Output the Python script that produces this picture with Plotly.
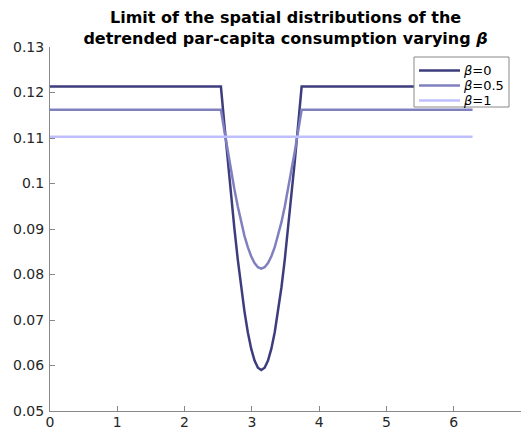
import plotly.graph_objects as go

# x positions: flat part, dip around pi, flat part to 2*pi
x_vals = [0.0, 2.54, 2.59, 2.64, 2.69, 2.74, 2.79, 2.84, 2.89, 2.94, 2.99, 3.04, 3.09,
          3.14, 3.19, 3.24, 3.29, 3.34, 3.39, 3.44, 3.49, 3.54, 3.59, 3.64, 3.69, 3.74, 6.28]

beta0 = [0.1213, 0.1213, 0.1132, 0.1052, 0.0975, 0.0902, 0.0834, 0.0772, 0.0719, 0.0673,
         0.0637, 0.0611, 0.0595, 0.0590, 0.0595, 0.0611, 0.0637, 0.0673, 0.0719, 0.0772,
         0.0834, 0.0902, 0.0975, 0.1052, 0.1132, 0.1213, 0.1213]

beta05 = [0.1162, 0.1162, 0.1117, 0.1072, 0.1028, 0.0988, 0.0950, 0.0915, 0.0885, 0.0860,
          0.0840, 0.0825, 0.0816, 0.0813, 0.0816, 0.0825, 0.0840, 0.0860, 0.0885, 0.0915,
          0.0950, 0.0988, 0.1028, 0.1072, 0.1117, 0.1162, 0.1162]

x_flat = [0.0, 6.28]
beta1 = [0.1103, 0.1103]

series_names = ["<i>β</i>=0", "<i>β</i>=0.5", "<i>β</i>=1"]
colors = ["#3d3d7d", "#8080c0", "#bfbfff"]

x_ticks = [0, 1, 2, 3, 4, 5, 6, 7]
x_ticktext = ["0", "1", "2", "3", "4", "5", "6", "7"]
y_ticks = [0.05, 0.06, 0.07, 0.08, 0.09, 0.10, 0.11, 0.12, 0.13]
y_ticktext = ["0.05", "0.06", "0.07", "0.08", "0.09", "0.1", "0.11", "0.12", "0.13"]

fig = go.Figure()
for xs, ys, nm, col in [(x_vals, beta0, series_names[0], colors[0]),
                        (x_vals, beta05, series_names[1], colors[1]),
                        (x_flat, beta1, series_names[2], colors[2])]:
    fig.add_trace(go.Scatter(x=xs, y=ys, mode="lines", name=nm, showlegend=False,
                             line=dict(color=col, width=2.5)))

axis_common = dict(showline=True, linecolor="#888888", linewidth=1, ticks="inside",
                   ticklen=5, tickcolor="#888888", showgrid=False, zeroline=False,
                   automargin=False,
                   tickfont=dict(family="DejaVu Sans", size=14, color="#262626"))

# Legend box (drawn in paper coordinates, compact like the reference)
# plot area: x 50..521 px, y 47..411 px
leg_x0, leg_x1 = (414 - 50) / 471, (509 - 50) / 471
leg_y0, leg_y1 = (411 - 107) / 364, (411 - 57) / 364
row_y = [(411 - 70.5) / 364, (411 - 85.5) / 364, (411 - 100.5) / 364]
sample_x0, sample_x1, text_x = (419 - 50) / 471, (460 - 50) / 471, (462 - 50) / 471

shapes = [dict(type="rect", xref="paper", yref="paper", x0=leg_x0, x1=leg_x1,
               y0=leg_y0, y1=leg_y1, line=dict(color="#888888", width=1),
               fillcolor="white", layer="above")]
annotations = []
for i, (nm, col) in enumerate(zip(series_names, colors)):
    shapes.append(dict(type="line", xref="paper", yref="paper", x0=sample_x0, x1=sample_x1,
                       y0=row_y[i], y1=row_y[i], line=dict(color=col, width=2.5),
                       layer="above"))
    annotations.append(dict(xref="paper", yref="paper", x=text_x, y=row_y[i], text=nm,
                            showarrow=False, xanchor="left", yanchor="middle",
                            borderpad=0,
                            font=dict(family="DejaVu Sans", size=13, color="black")))

fig.update_layout(
    width=523, height=430,
    margin=dict(l=50, r=2, t=47, b=19),
    paper_bgcolor="white", plot_bgcolor="white",
    title=dict(text="<b>Limit of the spatial distributions of the<br>detrended par-capita consumption varying <i>β</i></b>",
               x=0.546, xanchor="center", y=0.946, yanchor="middle",
               font=dict(family="DejaVu Sans", size=16, color="black")),
    xaxis=dict(range=[0, 7], tickvals=x_ticks, ticktext=x_ticktext,
               ticklabelstandoff=-2, **axis_common),
    yaxis=dict(range=[0.05, 0.13], tickvals=y_ticks, ticktext=y_ticktext,
               ticklabelstandoff=2, **axis_common),
    shapes=shapes,
    annotations=annotations,
    showlegend=False,
)

fig.write_html("out.html", config={"displayModeBar": False},
               post_script="document.body.style.margin='0';document.body.style.overflow='hidden';")
